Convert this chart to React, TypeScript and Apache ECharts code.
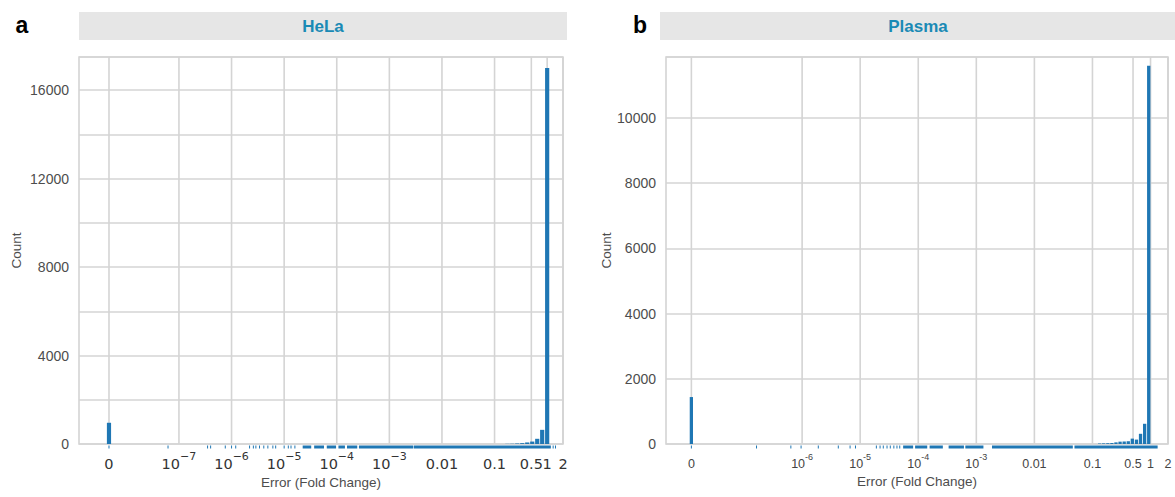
import React, { useEffect, useRef } from 'react';
import * as echarts from 'echarts';

// ---------- data ----------
// HeLa histogram: bin centers (fold-change error) and counts
const helaBinCenters = [0, 0.175, 0.217, 0.27, 0.336, 0.418, 0.52, 0.647, 0.804, 1.0];
const helaCounts = [960, 8, 12, 25, 40, 70, 110, 235, 640, 17000];
// Plasma histogram
const plasmaBinCenters = [0, 0.133, 0.156, 0.184, 0.216, 0.254, 0.299, 0.352, 0.414, 0.486, 0.573, 0.673, 0.792, 0.931];
const plasmaCounts = [1440, 15, 20, 25, 30, 50, 72, 77, 85, 165, 135, 313, 620, 11600];

// bin widths in decades of the log scale
const helaBinDecades = 0.0947;
const plasmaBinDecades = 0.0705;

// rug marks (individual observations) and dense rug spans
const helaRugTicks = [0, 6.2e-8, 3.5e-7, 4.0e-7, 7.6e-7, 1.0e-6, 1.2e-6, 2.2e-6, 2.6e-6, 2.9e-6, 3.4e-6, 4.1e-6, 4.9e-6, 6.1e-6, 6.9e-6, 1.0e-5, 1.2e-5, 1.35e-5, 1.6e-5, 1.3, 1.44];
const helaRugSpans = [[2.3e-5, 3.2e-5], [3.8e-5, 5.6e-5], [6.6e-5, 9.5e-5], [1.1e-4, 1.4e-4], [1.6e-4, 2.4e-4], [2.7e-4, 2.8e-3], [3.0e-3, 1.15]];
const plasmaRugTicks = [0, 1.64e-7, 6.4e-7, 9.6e-7, 1.9e-6, 4.2e-6, 6.7e-6, 8.3e-6, 1.9e-5, 2.2e-5, 2.5e-5, 2.9e-5, 3.3e-5, 3.8e-5, 4.3e-5, 4.8e-5];
const plasmaRugSpans = [[5.6e-5, 8.0e-5], [9.0e-5, 1.4e-4], [1.6e-4, 2.6e-4], [3.4e-4, 6.0e-4], [6.6e-4, 1.3e-3], [1.9e-3, 0.045], [0.05, 1.3]];

// axis breaks
const helaTickValues = [0, 1e-7, 1e-6, 1e-5, 1e-4, 1e-3, 0.01, 0.1, 0.5, 1, 2];
const helaTickLabels = ['0', '10^−7', '10^−6', '10^−5', '10^−4', '10^−3', '0.01', '0.1', '0.5', '1', '2'];
const plasmaTickValues = [0, 1e-6, 1e-5, 1e-4, 1e-3, 0.01, 0.1, 0.5, 1, 2];
const plasmaTickLabels = ['0', '10^-6', '10^-5', '10^-4', '10^-3', '0.01', '0.1', '0.5', '1', '2'];

// position of zero on the log10 scale (pseudo-log placement), and axis limits
const helaZeroPos = -8.33;
const plasmaZeroPos = -7.907;
const helaXMin = -8.9;
const plasmaXMin = -8.344;
const xMaxValue = 2;
const helaYMax = 17500;
const plasmaYMax = 11870;

// ---------- helpers ----------
const BLUE = '#1f77b4';
const GRID = '#d4d4d4';
const toU = (v: number, zero: number) => (v === 0 ? zero : Math.log10(v));

function labelFormatter(values: number[], labels: string[], zero: number) {
  return (val: number) => {
    const i = values.findIndex((v) => Math.abs(toU(v, zero) - val) < 1e-6);
    if (i < 0) return '';
    const s = labels[i];
    const m = s.match(/^10\^(.*)$/);
    return m ? `{b|10}{s|${m[1]}}` : `{b|${s}}`;
  };
}

function barSeries(idx: number, centers: number[], counts: number[], zero: number, w: number) {
  return {
    type: 'custom',
    xAxisIndex: idx,
    yAxisIndex: idx,
    silent: true,
    z: 3,
    encode: { x: 0, y: 1 },
    data: centers.map((c, i) => [toU(c, zero), counts[i]]),
    renderItem: (params: any, api: any) => {
      const u = api.value(0);
      const n = api.value(1);
      const p0 = api.coord([u - w / 2, n]);
      const p1 = api.coord([u + w / 2, 0]);
      return {
        type: 'rect',
        shape: { x: p0[0] + 0.4, y: p0[1], width: Math.max(p1[0] - p0[0] - 0.8, 1), height: p1[1] - p0[1] },
        style: { fill: BLUE },
      };
    },
  };
}

function rugSeries(idx: number, ticks: number[], spans: number[][], zero: number) {
  const data = [
    ...ticks.map((t) => [toU(t, zero), toU(t, zero)]),
    ...spans.map((s) => [toU(s[0], zero), toU(s[1], zero)]),
  ];
  return {
    type: 'custom',
    xAxisIndex: idx,
    yAxisIndex: idx,
    silent: true,
    clip: false,
    z: 4,
    encode: { x: [0, 1] },
    data,
    renderItem: (params: any, api: any) => {
      const a = api.coord([api.value(0), 0]);
      const b = api.coord([api.value(1), 0]);
      return {
        type: 'rect',
        shape: { x: a[0] - 0.5, y: a[1] + 1.5, width: Math.max(b[0] - a[0], 0) + 1, height: 3 },
        style: { fill: BLUE },
      };
    },
  };
}

function gridSeries(idx: number, values: number[], zero: number) {
  return {
    type: 'custom',
    xAxisIndex: idx,
    yAxisIndex: idx,
    silent: true,
    z: 1,
    encode: { x: 0, y: 1 },
    data: values.map((v) => [toU(v, zero), 0]),
    renderItem: (params: any, api: any) => {
      const p = api.coord([api.value(0), 0]);
      const cs = params.coordSys;
      return {
        type: 'line',
        shape: { x1: p[0], y1: cs.y, x2: p[0], y2: cs.y + cs.height },
        style: { stroke: GRID, lineWidth: 1.6 },
      };
    },
  };
}

function buildOption() {
  const leftLabelRich = {
    b: { fontFamily: 'DejaVu Sans', fontSize: 14.5, color: '#333', lineHeight: 20, verticalAlign: 'bottom' },
    s: { fontFamily: 'DejaVu Sans', fontSize: 11, color: '#333', lineHeight: 12, verticalAlign: 'top' },
  };
  const rightLabelRich = {
    b: { fontFamily: 'Liberation Sans', fontSize: 12.5, color: '#444', lineHeight: 18, verticalAlign: 'bottom' },
    s: { fontFamily: 'Liberation Sans', fontSize: 9, color: '#444', lineHeight: 10, verticalAlign: 'top' },
  };
  const yLabel = { fontFamily: 'Liberation Sans', fontSize: 14, color: '#4d4d4d' };
  const axisName = { fontFamily: 'Liberation Sans', fontSize: 13.5, color: '#4d4d4d' };

  return {
    animation: false,
    backgroundColor: '#fff',
    grid: [
      { left: 79, top: 57, width: 484, height: 387, show: true, borderColor: GRID, borderWidth: 1.6 },
      { left: 666, top: 57, width: 502, height: 387, show: true, borderColor: GRID, borderWidth: 1.6 },
    ],
    xAxis: [
      {
        type: 'value', gridIndex: 0, min: helaXMin, max: Math.log10(xMaxValue),
        axisLine: { show: false }, axisTick: { show: false }, splitLine: { show: false },
        axisLabel: {
          customValues: helaTickValues.map((v) => toU(v, helaZeroPos)),
          formatter: labelFormatter(helaTickValues, helaTickLabels, helaZeroPos),
          rich: leftLabelRich, margin: 7, hideOverlap: false,
        },
        name: 'Error (Fold Change)', nameLocation: 'middle', nameGap: 30, nameTextStyle: axisName,
      },
      {
        type: 'value', gridIndex: 1, min: plasmaXMin, max: Math.log10(xMaxValue),
        axisLine: { show: false }, axisTick: { show: false }, splitLine: { show: false },
        axisLabel: {
          customValues: plasmaTickValues.map((v) => toU(v, plasmaZeroPos)),
          formatter: labelFormatter(plasmaTickValues, plasmaTickLabels, plasmaZeroPos),
          rich: rightLabelRich, margin: 8, hideOverlap: false,
        },
        name: 'Error (Fold Change)', nameLocation: 'middle', nameGap: 30, nameTextStyle: axisName,
      },
    ],
    yAxis: [
      {
        type: 'value', gridIndex: 0, min: 0, max: helaYMax, interval: 2000,
        axisLine: { show: false }, axisTick: { show: false },
        splitLine: { show: true, lineStyle: { color: GRID, width: 1.6 } },
        axisLabel: { ...yLabel, margin: 10, formatter: (v: number) => (v % 4000 === 0 ? String(v) : '') },
        name: 'Count', nameLocation: 'middle', nameGap: 56, nameTextStyle: axisName,
      },
      {
        type: 'value', gridIndex: 1, min: 0, max: plasmaYMax, interval: 2000,
        axisLine: { show: false }, axisTick: { show: false },
        splitLine: { show: true, lineStyle: { color: GRID, width: 1.6 } },
        axisLabel: { ...yLabel, margin: 10, formatter: (v: number) => (v % 2000 === 0 ? String(v) : '') },
        name: 'Count', nameLocation: 'middle', nameGap: 51, nameTextStyle: axisName,
      },
    ],
    graphic: [
      { type: 'rect', shape: { x: 79, y: 12, width: 488, height: 28 }, style: { fill: '#e6e6e6' }, silent: true },
      { type: 'rect', shape: { x: 660, y: 12, width: 515, height: 28 }, style: { fill: '#e6e6e6' }, silent: true },
      { type: 'text', x: 323, y: 26, style: { text: 'HeLa', fill: '#1a8ab5', font: 'bold 17px "Liberation Sans"', align: 'center', verticalAlign: 'middle' } },
      { type: 'text', x: 918, y: 26, style: { text: 'Plasma', fill: '#1a8ab5', font: 'bold 17px "Liberation Sans"', align: 'center', verticalAlign: 'middle' } },
      { type: 'text', x: 22, y: 25, style: { text: 'a', fill: '#000', font: 'bold 23px "Liberation Sans"', align: 'center', verticalAlign: 'middle' } },
      { type: 'text', x: 640, y: 25, style: { text: 'b', fill: '#000', font: 'bold 23px "Liberation Sans"', align: 'center', verticalAlign: 'middle' } },
    ],
    series: [
      gridSeries(0, helaTickValues, helaZeroPos),
      gridSeries(1, plasmaTickValues, plasmaZeroPos),
      barSeries(0, helaBinCenters, helaCounts, helaZeroPos, helaBinDecades),
      barSeries(1, plasmaBinCenters, plasmaCounts, plasmaZeroPos, plasmaBinDecades),
      rugSeries(0, helaRugTicks, helaRugSpans, helaZeroPos),
      rugSeries(1, plasmaRugTicks, plasmaRugSpans, plasmaZeroPos),
    ],
  };
}

export default function App() {
  const ref = useRef<HTMLDivElement>(null);
  useEffect(() => {
    const chart = echarts.init(ref.current!, null, { renderer: 'svg' });
    chart.setOption(buildOption() as any);
    return () => chart.dispose();
  }, []);
  return (
    <div
      ref={ref}
      style={{ position: 'fixed', left: 0, top: 0, width: 1175, height: 497, background: '#fff' }}
    />
  );
}
